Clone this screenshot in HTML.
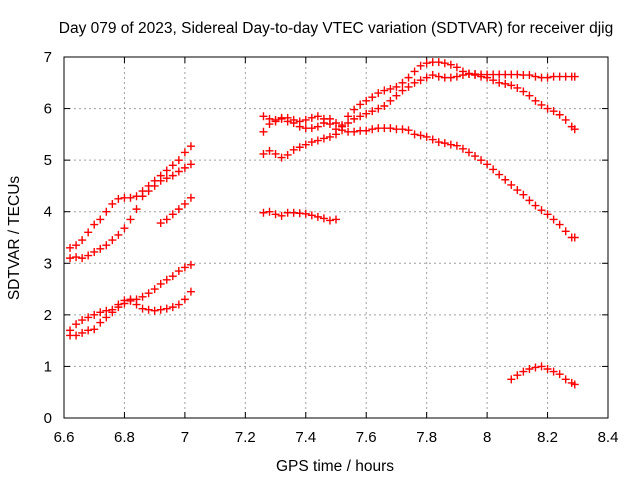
<!DOCTYPE html>
<html><head><meta charset="utf-8"><style>
body{margin:0;background:#fff;}
svg{display:block;font-family:"Liberation Sans",sans-serif;}
</style></head><body>
<svg id="chart" width="640" height="480">
<text x="336" y="33" text-anchor="middle" font-size="15.5">Day 079 of 2023, Sidereal Day-to-day VTEC variation (SDTVAR) for receiver djig</text>
<text x="335" y="471" text-anchor="middle" font-size="15.5">GPS time / hours</text>
<text transform="translate(19,238) rotate(-90)" text-anchor="middle" font-size="15.5">SDTVAR / TECUs</text>
<g id="grid"></g><g id="ticks"></g><g id="marks"></g>
<rect x="64" y="57" width="544" height="361" fill="none" stroke="#000" stroke-width="1"/>
</svg>
<script>
const xTicks=[6.6,6.8,7,7.2,7.4,7.6,7.8,8,8.2,8.4];
const yTicks=[0,1,2,3,4,5,6,7];
const sA_x=[6.62,6.64,6.66,6.68,6.70,6.72,6.74,6.76,6.78,6.80,6.82,6.84,6.86,6.88,6.90,6.92,6.94,6.96,6.98,7.00,7.02];
const sA_y=[3.3,3.35,3.45,3.6,3.75,3.85,4.0,4.15,4.25,4.27,4.27,4.3,4.4,4.5,4.6,4.7,4.8,4.9,5.0,5.15,5.27];
const sB_x=sA_x;
const sB_y=[3.1,3.12,3.1,3.15,3.22,3.28,3.35,3.45,3.55,3.68,3.85,4.05,4.3,4.4,4.5,4.6,4.65,4.7,4.78,4.85,4.92];
const sC_x=[6.92,6.94,6.96,6.98,7.00,7.02];
const sC_y=[3.78,3.85,3.95,4.05,4.15,4.27];
const sD_x=sA_x;
const sD_y=[1.7,1.82,1.9,1.95,2.0,2.05,2.08,2.1,2.15,2.22,2.27,2.3,2.35,2.42,2.5,2.6,2.68,2.75,2.85,2.92,2.97];
const sE_x=sA_x;
const sE_y=[1.6,1.6,1.65,1.7,1.72,1.85,1.95,2.05,2.2,2.28,2.3,2.2,2.12,2.1,2.08,2.1,2.12,2.15,2.2,2.3,2.45];
const sF_x=[7.26,7.28,7.30,7.32,7.34,7.36,7.38,7.40,7.42,7.44,7.46,7.48,7.50,7.52,7.54,7.56,7.58,7.60,7.62,7.64,7.66,7.68,7.70,7.72,7.74,7.76,7.78,7.80,7.82,7.84,7.86,7.88,7.90,7.92,7.94,7.96,7.98,8.00,8.02,8.04,8.06,8.08,8.10,8.12,8.14,8.16,8.18,8.20,8.22,8.24,8.26,8.28,8.29];
const sF_y=[5.55,5.7,5.78,5.82,5.82,5.78,5.75,5.78,5.82,5.85,5.8,5.7,5.6,5.68,5.85,5.98,6.08,6.15,6.22,6.3,6.35,6.38,6.42,6.5,6.6,6.72,6.83,6.88,6.9,6.9,6.88,6.85,6.8,6.72,6.68,6.65,6.62,6.6,6.55,6.5,6.48,6.45,6.4,6.33,6.25,6.15,6.07,6.0,5.95,5.88,5.78,5.65,5.6];
const sG_x=sF_x;
const sG_y=[5.85,5.8,5.75,5.8,5.75,5.72,5.65,5.62,5.62,5.65,5.72,5.8,5.72,5.65,5.72,5.8,5.85,5.9,5.95,6.0,6.05,6.15,6.25,6.35,6.42,6.5,6.55,6.6,6.65,6.62,6.6,6.6,6.62,6.65,6.67,6.67,6.66,6.66,6.66,6.66,6.66,6.66,6.66,6.65,6.65,6.62,6.6,6.6,6.62,6.62,6.62,6.62,6.62];
const sH_x=sF_x;
const sH_y=[5.12,5.18,5.12,5.05,5.1,5.2,5.25,5.3,5.35,5.38,5.42,5.45,5.5,5.58,5.55,5.55,5.57,5.57,5.6,5.62,5.62,5.62,5.6,5.6,5.58,5.5,5.48,5.45,5.4,5.35,5.33,5.3,5.28,5.22,5.15,5.08,5.0,4.92,4.82,4.72,4.62,4.52,4.42,4.33,4.22,4.12,4.03,3.95,3.85,3.75,3.62,3.5,3.5];
const sI_x=[7.26,7.28,7.30,7.32,7.34,7.36,7.38,7.40,7.42,7.44,7.46,7.48,7.50];
const sI_y=[3.98,4.0,3.95,3.92,3.98,3.98,3.97,3.96,3.93,3.9,3.87,3.83,3.85];
const sJ_x=[8.08,8.10,8.12,8.14,8.16,8.18,8.20,8.22,8.24,8.26,8.28,8.29];
const sJ_y=[0.75,0.83,0.9,0.95,0.98,1.0,0.95,0.9,0.85,0.75,0.68,0.65];
const seriesX=[sA_x,sB_x,sC_x,sD_x,sE_x,sF_x,sG_x,sH_x,sI_x,sJ_x];
const seriesY=[sA_y,sB_y,sC_y,sD_y,sE_y,sF_y,sG_y,sH_y,sI_y,sJ_y];

const NS="http://www.w3.org/2000/svg";
const X=v=>64+(v-6.6)/1.8*544;
const Y=v=>418-v/7*361;
function mk(tag,attrs,parent){const e=document.createElementNS(NS,tag);for(const k in attrs)e.setAttribute(k,attrs[k]);parent.appendChild(e);return e;}
const grid=document.getElementById('grid'),ticks=document.getElementById('ticks'),marks=document.getElementById('marks');
xTicks.forEach(t=>{
  const x=X(t);
  if(t>6.6&&t<8.4){const g=mk('line',{x1:x,x2:x,y1:57,y2:418,stroke:'#a0a0a0','stroke-dasharray':'2,3'},grid);
  
  }
  mk('line',{x1:x,x2:x,y1:418,y2:412,stroke:'#000'},ticks);
  mk('line',{x1:x,x2:x,y1:57,y2:63,stroke:'#000'},ticks);
  const l=mk('text',{x:x,y:442,'text-anchor':'middle','font-size':'15'},ticks);
  l.textContent=String(t);
  
  
});
yTicks.forEach(t=>{
  const y=Y(t);
  if(t>0&&t<7){const g=mk('line',{x1:64,x2:608,y1:y,y2:y,stroke:'#a0a0a0','stroke-dasharray':'2,3'},grid);
  
  }
  mk('line',{x1:64,x2:70,y1:y,y2:y,stroke:'#000'},ticks);
  mk('line',{x1:608,x2:602,y1:y,y2:y,stroke:'#000'},ticks);
  const l=mk('text',{x:52,y:y+5,'text-anchor':'end','font-size':'15'},ticks);
  l.textContent=String(t);
  
  
});
seriesX.forEach((xs,si)=>{
  const ys=seriesY[si];
  let d='';
  xs.forEach((xv,i)=>{const x=X(xv),y=Y(ys[i]);d+=`M${x-4},${y}h8M${x},${y-4}v8`;});
  const p=mk('path',{d:d,stroke:'#ff0000','stroke-width':'1.4',fill:'none'},marks);
  
  
});
</script>
</body></html>
